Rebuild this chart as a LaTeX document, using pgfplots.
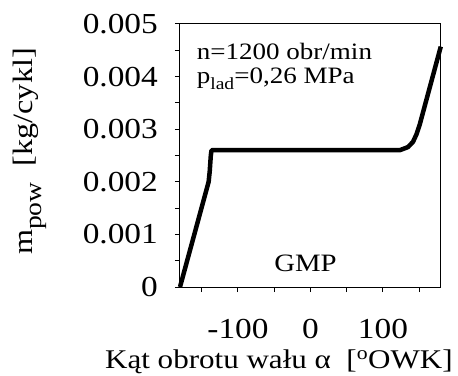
\documentclass[border=0pt]{standalone}
\usepackage{fontspec}
\setmainfont{Liberation Serif}[FakeStretch=1.15]
\usepackage{pgfplots}
\pgfplotsset{compat=1.18}
\begin{document}
\begin{tikzpicture}
\useasboundingbox (-180bp,-89bp) rectangle (278bp,287bp);
\begin{axis}[
 at={(0,0)}, anchor=south west,
 scale only axis, width=261bp, height=263bp,
 xmin=-180, xmax=180, ymin=0, ymax=0.005,
 axis line style={line width=1bp},
 tick align=outside, xtick pos=bottom, ytick pos=left,
 major tick length=5bp, minor tick length=5bp,
 tick style={line width=1bp, black},
 xtick={-150,-100,-50,0,50,100,150},
 xticklabels={,-100,,0,,100,},
 ytick={0,0.001,0.002,0.003,0.004,0.005},
 yticklabels={0,0.001,0.002,0.003,0.004,0.005},
 minor ytick={0.0005,0.0015,0.0025,0.0035,0.0045},
 scaled y ticks=false,
 ticklabel style={font=\fontsize{29bp}{32bp}\selectfont, inner sep=0bp},
 xticklabel style={yshift=-27bp},
 yticklabel style={xshift=-17bp},
 label style={font=\fontsize{27bp}{30bp}\selectfont, inner sep=0bp},
 xlabel={Kąt obrotu wału α\ \ [\textsuperscript{o}OWK]},
 ylabel={m\raisebox{-0.3em}{\fontsize{24bp}{24bp}\selectfont pow}\ \ [kg/cykl]},
 xlabel style={at={(axis description cs:0.379,-0.285)}, anchor=center},
 ylabel style={at={(axis description cs:-0.575,0.515)}, anchor=center, font=\fontsize{28bp}{30bp}\selectfont},
 clip=false,
]
\addplot[line width=4.5bp, black, line join=round] coordinates {
 (-180,0) (-140.5,0.00200) (-139,0.0022) (-137.5,0.0025) (-136.5,0.0026)
 (123,0.0026) (134.5,0.00266) (141.4,0.00276) (146.1,0.0029) (150.7,0.00309) (179.7,0.00457)
};
\node[anchor=base west, inner sep=0pt, font=\fontsize{23.5bp}{25bp}\selectfont] at (axis cs:-157,0.00432) {n=1200 obr/min};
\node[anchor=base west, inner sep=0pt, font=\fontsize{23.5bp}{25bp}\selectfont] at (axis cs:-157,0.003865) {p\raisebox{-0.25em}{\fontsize{17bp}{17bp}\selectfont lad}=0,26 MPa};
\node[anchor=base, inner sep=0pt, font=\fontsize{25bp}{27bp}\selectfont] at (axis cs:-7,0.0003) {GMP};
\end{axis}
\end{tikzpicture}
\end{document}
